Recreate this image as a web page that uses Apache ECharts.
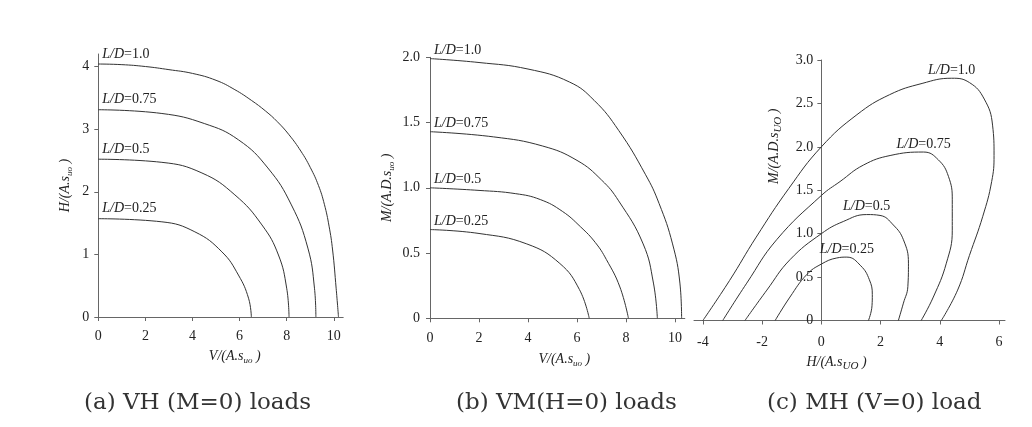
<!DOCTYPE html>
<html><head><meta charset="utf-8">
<script src="https://cdn.jsdelivr.net/npm/echarts@6/dist/echarts.min.js"></script>
<style>html,body{margin:0;padding:0;background:#fff}#c{width:1032px;height:427px}</style>
</head><body><div id="c"></div>
<script>
// ---------- tick labels ----------
const aXTicks = [0, 2, 4, 6, 8, 10];
const aYTicks = [0, 1, 2, 3, 4];
const bXTicks = [0, 2, 4, 6, 8, 10];
const bYTicks = [0, 0.5, 1.0, 1.5, 2.0];
const cXTicks = [-4, -2, 0, 2, 4, 6];
const cYTicks = [0, 0.5, 1.0, 1.5, 2.0, 2.5, 3.0];
const ldLabels = ['1.0', '0.75', '0.5', '0.25'];
const captions = ['(a) VH (M=0) loads', '(b) VM(H=0) loads', '(c) MH (V=0) load'];

// ---------- (a) VH, M=0 ----------
const aV_100 = [0, 1, 2, 3, 4, 5, 5.8, 6.5, 7.1, 7.6, 8.1, 8.6, 9.0, 9.35, 9.6, 9.8, 9.95, 10.1, 10.2];
const aH_100 = [4.04, 4.03, 4.0, 3.95, 3.89, 3.78, 3.63, 3.46, 3.29, 3.12, 2.91, 2.65, 2.39, 2.1, 1.8, 1.45, 1.07, 0.46, 0];
const aV_075 = [0, 2.7, 4.5, 5.95, 7.2, 8.2, 8.9, 9.18, 9.24];
const aH_075 = [3.31, 3.25, 3.09, 2.83, 2.38, 1.79, 1.1, 0.46, 0];
const aV_050 = [0, 2.7, 4.4, 5.8, 6.95, 7.65, 8.0, 8.1];
const aH_050 = [2.52, 2.47, 2.3, 1.95, 1.47, 0.99, 0.46, 0];
const aV_025 = [0, 2.7, 4.1, 5.25, 5.95, 6.38, 6.5];
const aH_025 = [1.57, 1.52, 1.36, 1.04, 0.67, 0.3, 0];

// ---------- (b) VM, H=0 ----------
const bV_100 = [0, 2, 4, 5.7, 6.7, 7.7, 8.8, 9.35, 9.9, 10.2, 10.27];
const bM_100 = [1.99, 1.96, 1.91, 1.81, 1.67, 1.44, 1.1, 0.88, 0.57, 0.27, 0];
const bV_075 = [0, 2.6, 4.6, 6.0, 7.0, 7.7, 8.7, 9.12, 9.28];
const bM_075 = [1.43, 1.39, 1.32, 1.21, 1.06, 0.9, 0.57, 0.27, 0];
const bV_050 = [0, 2, 3.5, 4.5, 5.4, 6.15, 6.75, 7.2, 7.75, 8.1];
const bM_050 = [1.0, 0.98, 0.955, 0.91, 0.82, 0.7, 0.58, 0.45, 0.24, 0];
const bV_025 = [0, 2, 3.95, 5.3, 6.1, 6.5];
const bM_025 = [0.68, 0.65, 0.57, 0.42, 0.22, 0];

// ---------- (c) MH, V=0 ----------
const cH_100 = [-4.0, -3.1, -2.2, -1.1, 0, 1.2, 2.3, 3.4, 4.4, 5.0, 5.5, 5.78, 5.83, 5.75, 5.45, 5.0, 4.6, 4.05];
const cM_100 = [0, 0.46, 0.96, 1.52, 2.0, 2.37, 2.6, 2.73, 2.79, 2.74, 2.55, 2.25, 1.9, 1.6, 1.2, 0.75, 0.35, 0];
const cH_075 = [-3.33, -2.52, -1.51, 0, 0.63, 1.42, 2.32, 3.45, 3.95, 4.29, 4.42, 4.42, 4.22, 3.78, 3.37];
const cM_075 = [0, 0.43, 0.93, 1.44, 1.6, 1.79, 1.9, 1.94, 1.85, 1.66, 1.39, 1.04, 0.66, 0.27, 0];
const cH_050 = [-2.58, -1.84, -1.06, 0, 0.74, 1.53, 1.98, 2.43, 2.77, 2.94, 2.92, 2.77, 2.6];
const cM_050 = [0, 0.35, 0.7, 1.0, 1.14, 1.22, 1.21, 1.1, 0.93, 0.66, 0.39, 0.2, 0];
const cH_025 = [-1.56, -1.06, -0.49, 0, 0.52, 0.86, 1.33, 1.62, 1.72, 1.71, 1.59];
const cM_025 = [0, 0.27, 0.53, 0.65, 0.72, 0.73, 0.63, 0.47, 0.3, 0.17, 0];

// ---------- axis ranges ----------
const aXRange = [0, 10.4], aYRange = [0, 4.2];
const bXRange = [0, 10.4], bYRange = [0, 2.0];
const cXRange = [-4.3, 6.2], cYRange = [0, 3.0];

// ---------- styling ----------
const SERIF = 'Liberation Serif';
const TXT = '#222';
const AX = '#666';
const labelRich = {
  i: { fontFamily: SERIF, fontStyle: 'italic', fontSize: 14, color: TXT },
  n: { fontFamily: SERIF, fontSize: 14, color: TXT }
};
const nameRich = {
  i: { fontFamily: SERIF, fontStyle: 'italic', fontSize: 14, color: TXT },
  s: { fontFamily: SERIF, fontStyle: 'italic', fontSize: 9, color: TXT, padding: [9, 0, 0, 0] },
  S: { fontFamily: SERIF, fontStyle: 'italic', fontSize: 11, color: TXT, padding: [7, 0, 0, 0] }
};
const fmt1 = v => (v === 0 ? '0' : v.toFixed(1));

function argmax(a) { let k = 0; a.forEach((v, i) => { if (v > a[k]) k = i; }); return k; }

function curve(xs, ys, gi, ld, labelIdx, labelCfg) {
  const data = xs.map((x, i) => {
    const d = { value: [x, ys[i]] };
    if (i === labelIdx) {
      d.label = Object.assign({
        show: true,
        formatter: '{i|L/D}{n|=' + ld + '}',
        rich: labelRich
      }, labelCfg);
    }
    return d;
  });
  return {
    type: 'line', xAxisIndex: gi, yAxisIndex: gi, data,
    smooth: 0.45, symbol: 'circle', symbolSize: 0, showSymbol: true,
    lineStyle: { color: '#333', width: 1 }, itemStyle: { color: '#333' },
    label: { show: false }, emphasis: { disabled: true }, silent: true, z: 3
  };
}

function axisCommon(ticks, formatter, margin) {
  return {
    type: 'value',
    splitLine: { show: false },
    axisLine: { show: true, onZero: true, lineStyle: { color: AX, width: 1 } },
    axisTick: { show: true, length: 4, lineStyle: { color: AX }, customValues: ticks },
    axisLabel: { fontFamily: SERIF, fontSize: 14, color: TXT, margin, customValues: ticks, formatter },
    nameTextStyle: { rich: nameRich }
  };
}

const grids = [
  { left: 98.3, top: 54, width: 244.9, height: 263 },
  { left: 430, top: 57.3, width: 254.8, height: 261 },
  { left: 694, top: 60, width: 311, height: 260.5 }
];

// the (c) vertical axis crosses the horizontal axis at H = 0
const cYOffset = -((0 - cXRange[0]) / (cXRange[1] - cXRange[0])) * grids[2].width;

const xAxes = [
  Object.assign(axisCommon(aXTicks, v => String(v), 12), {
    gridIndex: 0, min: aXRange[0], max: aXRange[1],
    name: '{i|V/(A.s}{s|uo}{i| )}', nameLocation: 'middle', nameGap: 30,
    nameTextStyle: { rich: nameRich, padding: [0, 0, 0, 28] }
  }),
  Object.assign(axisCommon(bXTicks, v => String(v), 13), {
    gridIndex: 1, min: bXRange[0], max: bXRange[1],
    name: '{i|V/(A.s}{s|uo}{i| )}', nameLocation: 'middle', nameGap: 32,
    nameTextStyle: { rich: nameRich, padding: [0, 0, 0, 14] }
  }),
  Object.assign(axisCommon(cXTicks, v => String(v), 15), {
    gridIndex: 2, min: cXRange[0], max: cXRange[1],
    name: '{i|H/(A.s}{S|UO}{i| )}', nameLocation: 'middle', nameGap: 33,
    nameTextStyle: { rich: nameRich, padding: [0, 26, 0, 0] }
  })
];
const yAxes = [
  Object.assign(axisCommon(aYTicks, v => String(v), 9), {
    gridIndex: 0, min: aYRange[0], max: aYRange[1],
    name: '{i|H/(A.s}{s|uo}{i| )}', nameLocation: 'middle', nameGap: 24, nameRotate: 90
  }),
  Object.assign(axisCommon(bYTicks, fmt1, 10), {
    gridIndex: 1, min: bYRange[0], max: bYRange[1],
    name: '{i|M/(A.D.s}{s|uo}{i| )}', nameLocation: 'middle', nameGap: 34, nameRotate: 90
  }),
  Object.assign(axisCommon(cYTicks, fmt1, 8), {
    gridIndex: 2, min: cYRange[0], max: cYRange[1], offset: cYOffset,
    axisLine: { show: true, onZero: false, lineStyle: { color: AX, width: 1 } },
    name: '{i|M/(A.D.s}{S|UO}{i| )}', nameLocation: 'middle', nameGap: 38, nameRotate: 90,
    nameTextStyle: { rich: nameRich, padding: [0, 0, 0, 88] }
  })
];

const startLblA = { position: [4, -17] };
const startLblB = { position: [4, -15] };
const peakLbl = { position: 'top', distance: 1 };

const series = [
  curve(aV_100, aH_100, 0, ldLabels[0], 0, startLblA),
  curve(aV_075, aH_075, 0, ldLabels[1], 0, startLblA),
  curve(aV_050, aH_050, 0, ldLabels[2], 0, startLblA),
  curve(aV_025, aH_025, 0, ldLabels[3], 0, startLblA),
  curve(bV_100, bM_100, 1, ldLabels[0], 0, startLblB),
  curve(bV_075, bM_075, 1, ldLabels[1], 0, startLblB),
  curve(bV_050, bM_050, 1, ldLabels[2], 0, startLblB),
  curve(bV_025, bM_025, 1, ldLabels[3], 0, startLblB),
  curve(cH_100, cM_100, 2, ldLabels[0], argmax(cM_100), peakLbl),
  curve(cH_075, cM_075, 2, ldLabels[1], argmax(cM_075), peakLbl),
  curve(cH_050, cM_050, 2, ldLabels[2], argmax(cM_050), peakLbl),
  curve(cH_025, cM_025, 2, ldLabels[3], argmax(cM_025), peakLbl)
];

const capLeft = [84, 456, 767];
const title = captions.map((t, i) => ({
  text: t, left: capLeft[i], top: 392, padding: 0,
  textStyle: { fontFamily: 'DejaVu Serif', fontSize: 23, fontWeight: 'normal', color: '#333' }
}));

const chart = echarts.init(document.getElementById('c'), null, { renderer: 'canvas' });
chart.setOption({
  backgroundColor: '#fff',
  animation: false,
  title,
  grid: grids,
  xAxis: xAxes,
  yAxis: yAxes,
  series
});
</script></body></html>
